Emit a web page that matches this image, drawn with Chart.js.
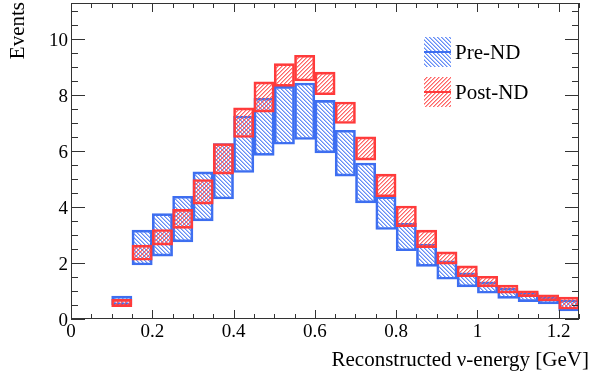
<!DOCTYPE html>
<html>
<head>
<meta charset="utf-8">
<script src="https://cdn.jsdelivr.net/npm/chart.js@4"></script>
<style>
  html, body { margin: 0; padding: 0; background: #fff; }
  #wrap { width: 598px; height: 376px; }
</style>
</head>
<body>
<div id="wrap"><canvas id="grafica" width="598" height="376"></canvas></div>
<script>
// bin centres (GeV), bins of 0.05 from 0 to 1.25
const centros = [0.025, 0.075, 0.125, 0.175, 0.225, 0.275, 0.325, 0.375, 0.425, 0.475,
  0.525, 0.575, 0.625, 0.675, 0.725, 0.775, 0.825, 0.875, 0.925, 0.975,
  1.025, 1.075, 1.125, 1.175, 1.225];

// Pre-ND band (low / high)
const preBajo = [0, 0, 0.50, 1.93, 2.25, 2.76, 3.51, 4.29, 5.24, 5.85,
  6.25, 6.42, 5.94, 5.11, 4.15, 3.20, 2.44, 1.88, 1.42, 1.15,
  0.92, 0.74, 0.62, 0.54, 0.29];
const preAlto = [0, 0, 0.82, 3.18, 3.77, 4.39, 5.26, 6.27, 7.26, 7.90,
  8.32, 8.44, 7.82, 6.75, 5.58, 4.37, 3.42, 2.68, 2.08, 1.65,
  1.33, 1.10, 0.94, 0.78, 0.68];

// Post-ND band (low / high)
const postBajo = [0, 0, 0.44, 2.10, 2.64, 3.24, 4.11, 5.18, 6.49, 7.40,
  8.32, 8.51, 8.02, 6.99, 5.68, 4.37, 3.30, 2.55, 1.96, 1.51,
  1.15, 0.92, 0.80, 0.65, 0.35];
const postAlto = [0, 0, 0.70, 2.64, 3.20, 3.92, 4.99, 6.27, 7.55, 8.48,
  9.13, 9.43, 8.83, 7.76, 6.51, 5.18, 4.04, 3.18, 2.40, 1.90,
  1.53, 1.21, 1.01, 0.86, 0.78];

const xTicks = [0, 0.2, 0.4, 0.6, 0.8, 1, 1.2];
const yTicks = [0, 2, 4, 6, 8, 10];

const AZUL = "#3d6ef0";
const ROJO = "#ff3a3a";
const FUENTE = "'Liberation Serif', 'DejaVu Serif', serif";

// pixel hatch tile, 4px period
function rayado(r, g, b, dir) {
  const s = 4;
  const c = document.createElement("canvas");
  c.width = s; c.height = s;
  const cx = c.getContext("2d");
  for (let i = 0; i < s; i++) {
    const x = dir > 0 ? (s - 1 - i) : i;
    cx.fillStyle = `rgba(${r},${g},${b},0.9)`;
    cx.fillRect(x, i, 1, 1);
    cx.fillStyle = `rgba(${r},${g},${b},0.5)`;
    cx.fillRect((x + 1) % s, i, 1, 1);
  }
  return document.getElementById("grafica").getContext("2d").createPattern(c, "repeat");
}

const patAzul = rayado(85, 130, 245, -1);
const patRojo = rayado(255, 85, 85, 1);

const banda = (bajo, alto) => centros.map((c, i) => ({ x: c, y: [bajo[i], alto[i]] }));

// zero-width bins drawn as flat line
const lineaCero = [];
centros.forEach((c, i) => {
  if (postAlto[i] === postBajo[i]) {
    lineaCero.push({ x: c - 0.025, y: postBajo[i] }, { x: c + 0.025, y: postBajo[i] });
  }
});

const marco = {
  id: "marco",
  afterDraw(chart) {
    const ctx = chart.ctx;
    const a = chart.chartArea;
    const xs = chart.scales.x, ys = chart.scales.y;
    ctx.save();
    ctx.strokeStyle = "#333";
    ctx.lineWidth = 1;
    ctx.strokeRect(a.left + 0.5, a.top + 0.5, a.right - a.left - 1, a.bottom - a.top - 1);

    ctx.beginPath();
    for (let v = 0; v <= 1.2501; v += 0.05) {
      const px = Math.round(xs.getPixelForValue(v)) + 0.5;
      const mayor = Math.abs(v / 0.2 - Math.round(v / 0.2)) < 1e-6;
      const L = mayor ? 9 : 5;
      ctx.moveTo(px, a.bottom); ctx.lineTo(px, a.bottom - L);
      ctx.moveTo(px, a.top); ctx.lineTo(px, a.top + L);
    }
    for (let v = 0; v <= 11.3; v += 0.5) {
      const py = Math.round(ys.getPixelForValue(v)) + 0.5;
      const mayor = Math.abs(v / 2 - Math.round(v / 2)) < 1e-6;
      const L = mayor ? 14 : 7;
      ctx.moveTo(a.left, py); ctx.lineTo(a.left + L, py);
      ctx.moveTo(a.right, py); ctx.lineTo(a.right - L, py);
    }
    ctx.stroke();

    ctx.fillStyle = "#000";
    ctx.font = "19px " + FUENTE;
    ctx.textAlign = "center";
    ctx.textBaseline = "alphabetic";
    xTicks.forEach(v => ctx.fillText(String(v), xs.getPixelForValue(v), a.bottom + 18));
    ctx.textAlign = "right";
    yTicks.forEach(v => ctx.fillText(String(v), a.left - 3, ys.getPixelForValue(v) + 6.5));

    ctx.font = "21px " + FUENTE;
    ctx.textAlign = "right";
    ctx.fillText("Reconstructed \u03bd-energy [GeV]", 589, 366);
    ctx.save();
    ctx.translate(24, 2);
    ctx.rotate(-Math.PI / 2);
    ctx.textAlign = "right";
    ctx.fillText("Events", 0, 0);
    ctx.restore();

    // legend
    const items = [["Pre-ND", patAzul, AZUL, 37], ["Post-ND", patRojo, ROJO, 77]];
    items.forEach(([txt, pat, col, y0]) => {
      ctx.fillStyle = pat;
      ctx.fillRect(424, y0, 27, 30);
      ctx.strokeStyle = col;
      ctx.lineWidth = 2;
      ctx.beginPath();
      ctx.moveTo(424, y0 + 15); ctx.lineTo(451, y0 + 15);
      ctx.stroke();
      ctx.fillStyle = "#000";
      ctx.font = "21px " + FUENTE;
      ctx.textAlign = "left";
      ctx.fillText(txt, 455, y0 + 22);
    });
    ctx.restore();
  }
};

new Chart(document.getElementById("grafica"), {
  type: "bar",
  data: {
    datasets: [
      {
        label: "Post-ND",
        data: banda(postBajo, postAlto),
        backgroundColor: patRojo,
        borderColor: ROJO,
        borderWidth: 2,
        borderSkipped: false,
        order: 1
      },
      {
        label: "Pre-ND",
        data: banda(preBajo, preAlto),
        backgroundColor: patAzul,
        borderColor: AZUL,
        borderWidth: 2,
        borderSkipped: false,
        order: 2
      },
      {
        type: "line",
        label: "cero",
        data: lineaCero,
        borderColor: ROJO,
        borderWidth: 2,
        pointRadius: 0,
        order: 0
      }
    ]
  },
  options: {
    responsive: false,
    animation: false,
    grouped: false,
    barPercentage: 1,
    categoryPercentage: 1,
    layout: { padding: { left: 71, right: 19, top: 3, bottom: 57 } },
    plugins: { legend: { display: false }, tooltip: { enabled: false } },
    scales: {
      x: { type: "linear", min: 0, max: 1.25, display: false, offset: false },
      y: { min: 0, max: 11.3, display: false }
    }
  },
  plugins: [marco]
});
</script>
</body>
</html>
